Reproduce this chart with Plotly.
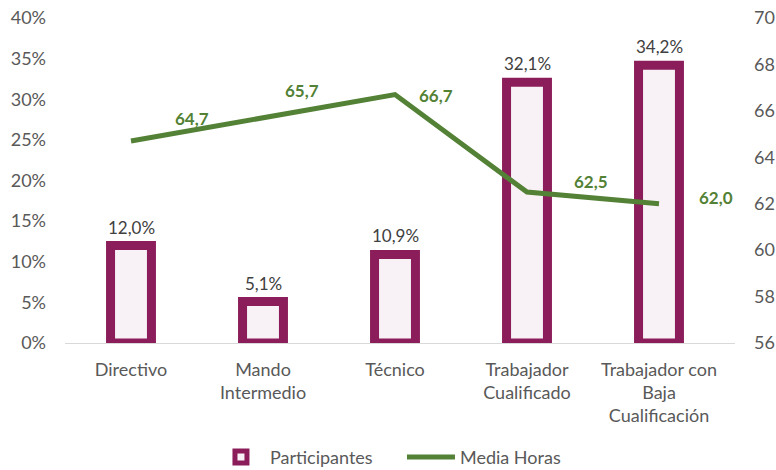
import plotly.graph_objects as go

categories = ["Directivo", "Mando<br>Intermedio", "Técnico", "Trabajador<br>Cualificado",
              "Trabajador con<br>Baja<br>Cualificación"]
participantes = [12.0, 5.1, 10.9, 32.1, 34.2]
media_horas = [64.7, 65.7, 66.7, 62.5, 62.0]
left_ticks = [0, 5, 10, 15, 20, 25, 30, 35, 40]
right_ticks = [56, 58, 60, 62, 64, 66, 68, 70]

# label offsets for line values (pixels)
line_label_shift = [(61, 23), (39, 27), (41, -1), (64, 11), (57, 6)]

FONT = "Lato"
PURPLE = "#8B1E5A"
FILL = "#F8F1F6"
GREEN = "#538135"
FS = 17
TFS = 18

def fmt(v, dec=1):
    return f"{v:.{dec}f}".replace(".", ",")

fig = go.Figure()
fig.add_trace(go.Bar(
    x=categories, y=participantes, name="Participantes",
    marker=dict(color=FILL, line=dict(color=PURPLE, width=9)),
    width=0.31, yaxis="y",
))
fig.add_trace(go.Scatter(
    x=categories, y=media_horas, name="Media Horas", mode="lines",
    line=dict(color=GREEN, width=5), yaxis="y2",
))

annotations = []
for c, v in zip(categories, participantes):
    annotations.append(dict(x=c, y=v, xref="x", yref="y", text=fmt(v) + "%",
                            showarrow=False, yanchor="bottom", yshift=6,
                            font=dict(family=FONT, size=FS, color="#404040")))
for c, v, (dx, dy) in zip(categories, media_horas, line_label_shift):
    annotations.append(dict(x=c, y=v, xref="x", yref="y2", text="<b>" + fmt(v) + "</b>",
                            showarrow=False, xshift=dx, yshift=dy,
                            font=dict(family=FONT, size=FS, color=GREEN)))

fig.update_layout(
    width=776, height=470,
    margin=dict(l=65, r=41, t=18, b=127, autoexpand=False),
    paper_bgcolor="white", plot_bgcolor="white",
    font=dict(family=FONT, size=TFS, color="#595959"),
    showlegend=True,
    legend=dict(orientation="h", x=0.518, xanchor="center", xref="container",
                y=-0.295, yanchor="top", yref="paper", entrywidth=127,
                font=dict(family=FONT, size=TFS, color="#595959"), itemwidth=48),
    xaxis=dict(showgrid=False, showline=True, linecolor="#D9D9D9", linewidth=1,
               ticks="", ticklabelstandoff=10, automargin=False,
               tickfont=dict(family=FONT, size=TFS, color="#595959")),
    yaxis=dict(range=[0, 40], tickvals=left_ticks, ticktext=[f"{t}%" for t in left_ticks],
               showgrid=False, zeroline=False, ticks="", ticklabelstandoff=18, automargin=False,
               tickfont=dict(family=FONT, size=TFS, color="#595959")),
    yaxis2=dict(range=[56, 70], tickvals=right_ticks, overlaying="y", side="right",
                showgrid=False, zeroline=False, ticks="", ticklabelstandoff=18, automargin=False,
                tickfont=dict(family=FONT, size=TFS, color="#595959")),
    annotations=annotations,
)

fig.write_html("out.html", config={"displayModeBar": False},
               post_script="document.body.style.margin='0';document.body.style.overflow='hidden';")
